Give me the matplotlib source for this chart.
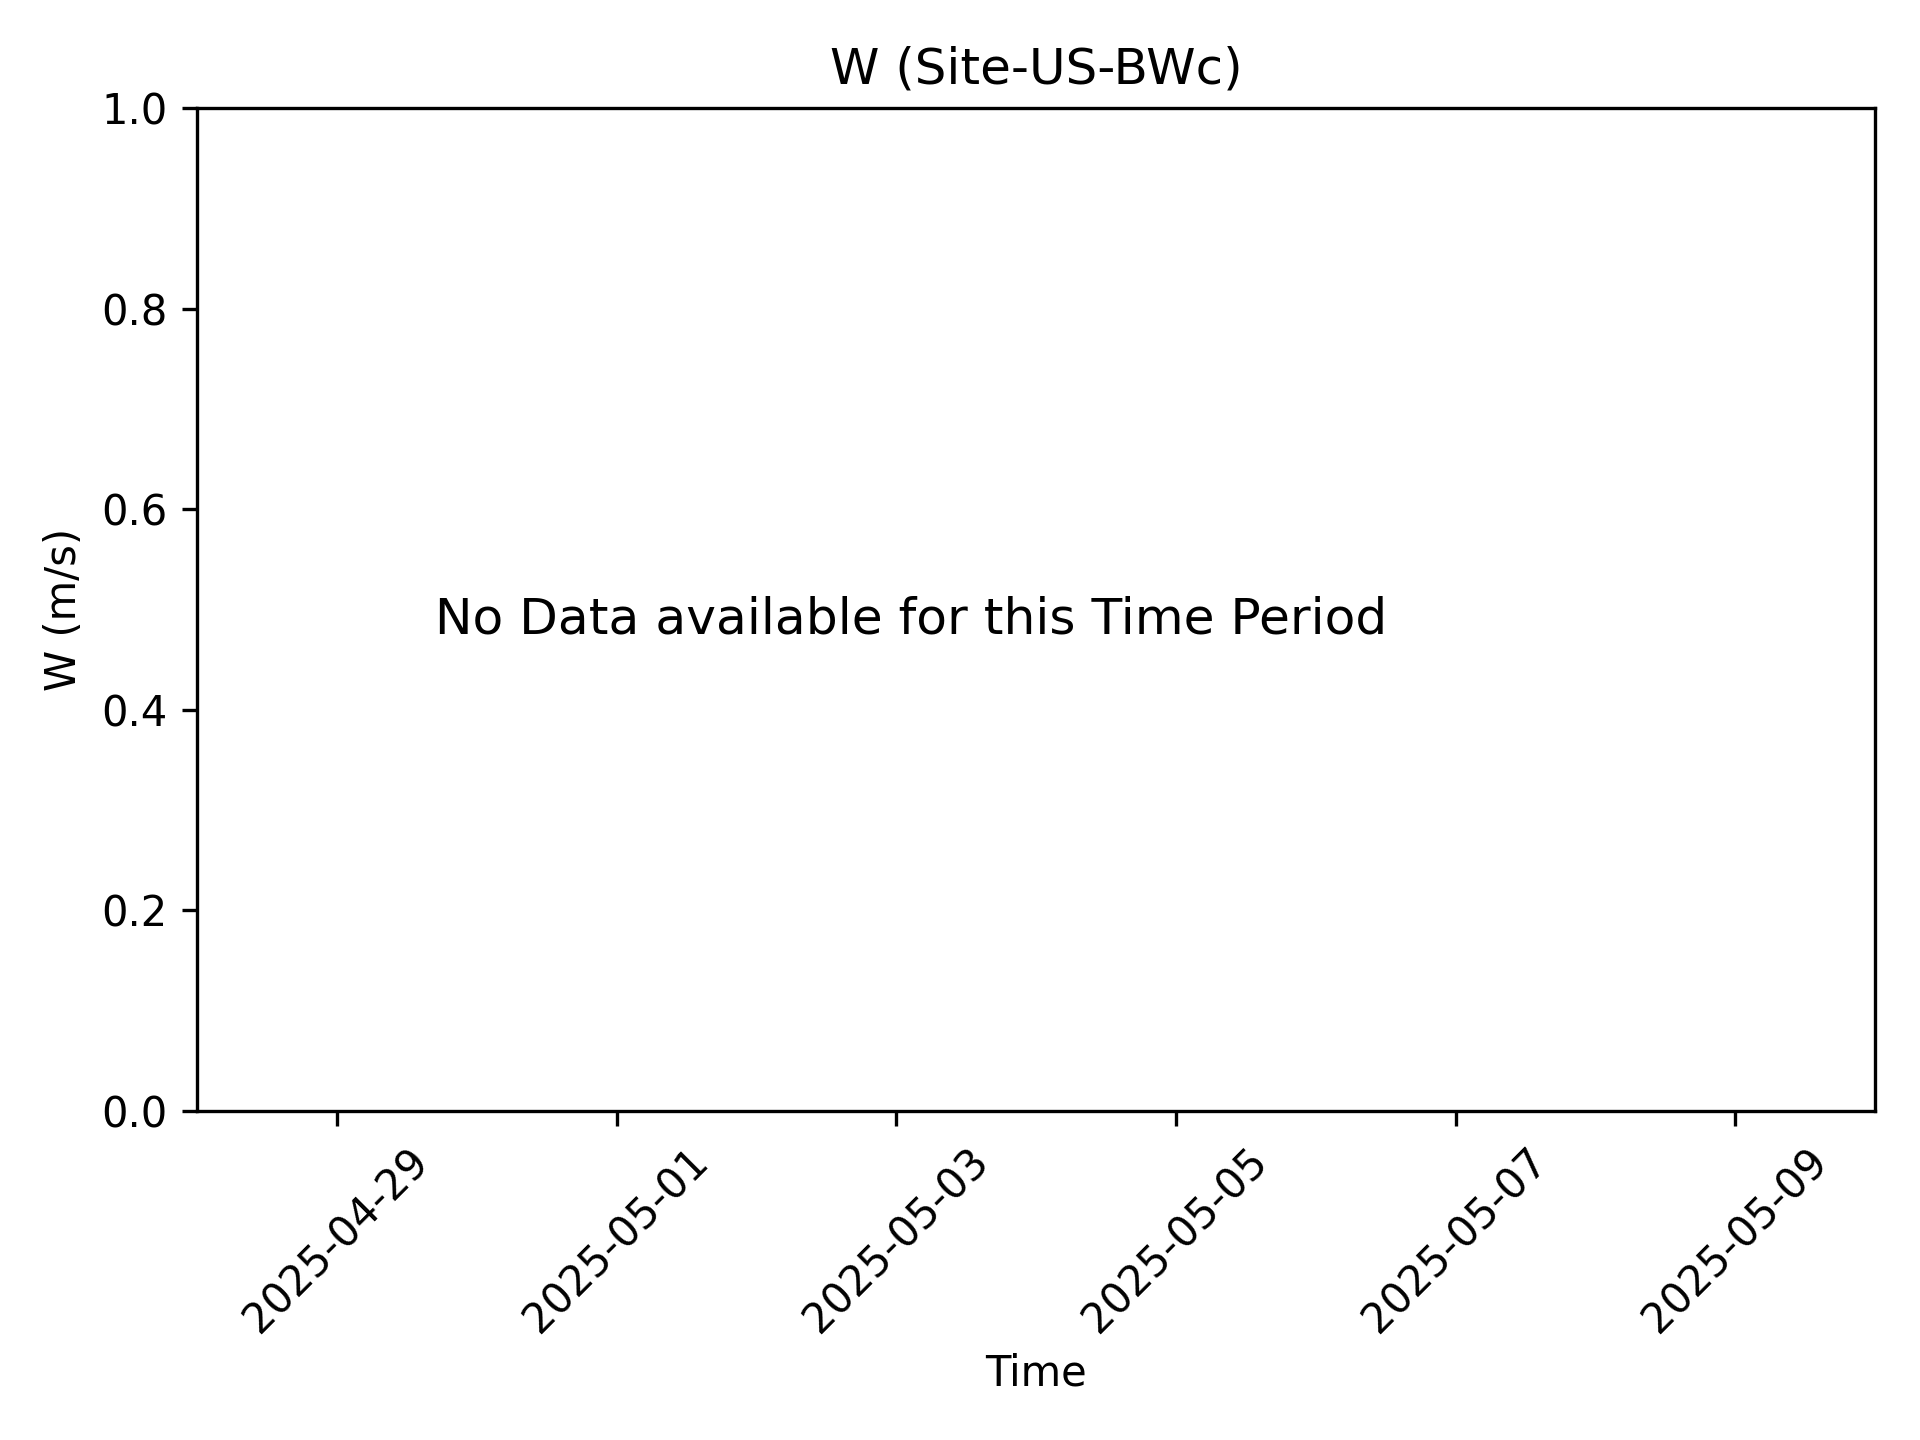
from datetime import datetime
import matplotlib
matplotlib.use("Agg")
from matplotlib import pyplot as plt, dates as mdates

site = "Site-US-BWc"
variable = "W"
units = "m/s"
start_date = datetime(2025, 4, 28)
end_date = datetime(2025, 5, 10)
tick_dates = [datetime(2025, 4, 29), datetime(2025, 5, 1), datetime(2025, 5, 3),
              datetime(2025, 5, 5), datetime(2025, 5, 7), datetime(2025, 5, 9)]
y_limits = [0.0, 1.0]
message = "No Data available for this Time Period"

fig, ax = plt.subplots(figsize=(6.4, 4.8), dpi=300)
ax.set_xlim(start_date, end_date)
ax.set_ylim(*y_limits)
ax.set_xticks(tick_dates)
ax.xaxis.set_major_formatter(mdates.DateFormatter("%Y-%m-%d"))
plt.setp(ax.get_xticklabels(), rotation=45)

ax.text(0.142, 0.49, message, transform=ax.transAxes, fontsize=12.05,
        ha="left", va="center")

ax.set_title(f"{variable} ({site})")
ax.set_xlabel("Time", labelpad=2.8)
ax.set_ylabel(f"{variable} ({units})")

fig.subplots_adjust(left=0.1026, right=0.9766, top=0.925, bottom=0.2285)
fig.savefig("out.png", dpi=300)
